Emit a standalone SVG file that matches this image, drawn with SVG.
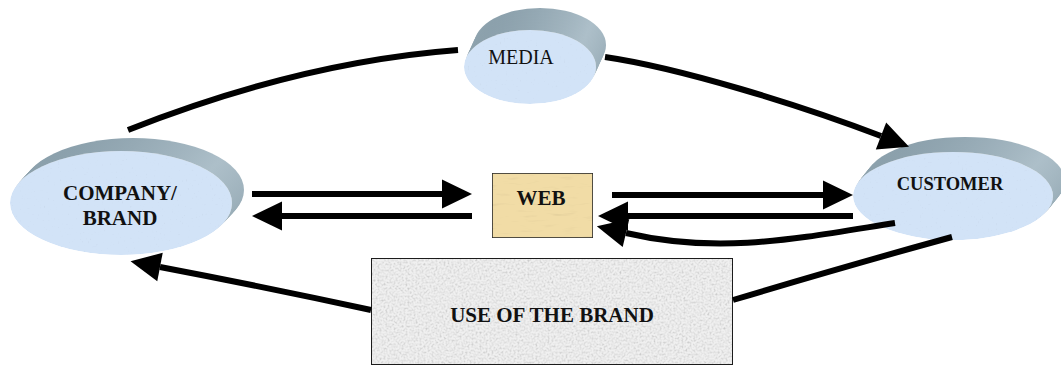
<svg xmlns="http://www.w3.org/2000/svg" width="1061" height="367" viewBox="0 0 1061 367">
  <style>
    .face { fill: #d2e3f7; filter: url(#mottle); }
    .rim { fill: url(#rimGrad); }
    .box-web { fill: #f1dca6; stroke: #2a2a2a; stroke-width: 1.6; filter: url(#parchment); }
    .box-use { fill: #f0f0f0; stroke: #1e1e1e; stroke-width: 2; filter: url(#granite); }
    .lbl { font-family: "Liberation Serif", "Times New Roman", serif; fill: #111; text-anchor: middle; }
    .b { font-weight: bold; }
    .conn { fill: none; stroke: #000; stroke-width: 6; }
    .arrow { marker-end: url(#head); }
  </style>
  <defs>
    <linearGradient id="rimGrad" x1="0" y1="0" x2="1" y2="1">
      <stop offset="0" stop-color="#7f95a1"/>
      <stop offset="0.55" stop-color="#adbfc9"/>
      <stop offset="1" stop-color="#8da2ad"/>
    </linearGradient>
    <filter id="mottle" x="0" y="0" width="1" height="1">
      <feTurbulence type="fractalNoise" baseFrequency="0.5" numOctaves="3" seed="5" result="n"/>
      <feColorMatrix in="n" type="matrix" values="0.33 0.33 0.33 0 0  0.33 0.33 0.33 0 0  0.33 0.33 0.33 0 0  0 0 0 0 1" result="g"/>
      <feComponentTransfer in="g" result="c">
        <feFuncR type="linear" slope="0.5" intercept="0.8"/>
        <feFuncG type="linear" slope="0.5" intercept="0.8"/>
        <feFuncB type="linear" slope="0.5" intercept="0.8"/>
      </feComponentTransfer>
      <feBlend in="SourceGraphic" in2="c" mode="multiply" result="m"/>
      <feComposite in="m" in2="SourceGraphic" operator="in"/>
    </filter>
    <filter id="parchment" x="0" y="0" width="1" height="1">
      <feTurbulence type="fractalNoise" baseFrequency="0.05 0.3" numOctaves="3" seed="2" result="n"/>
      <feColorMatrix in="n" type="matrix" values="0.33 0.33 0.33 0 0  0.33 0.33 0.33 0 0  0.33 0.33 0.33 0 0  0 0 0 0 1" result="g"/>
      <feComponentTransfer in="g" result="c">
        <feFuncR type="linear" slope="0.5" intercept="0.78"/>
        <feFuncG type="linear" slope="0.5" intercept="0.78"/>
        <feFuncB type="linear" slope="0.5" intercept="0.78"/>
      </feComponentTransfer>
      <feBlend in="SourceGraphic" in2="c" mode="multiply" result="m"/>
      <feComposite in="m" in2="SourceGraphic" operator="in"/>
    </filter>
    <filter id="granite" x="0" y="0" width="1" height="1">
      <feTurbulence type="fractalNoise" baseFrequency="0.5" numOctaves="3" seed="9" result="n"/>
      <feColorMatrix in="n" type="matrix" values="0.33 0.33 0.33 0 0  0.33 0.33 0.33 0 0  0.33 0.33 0.33 0 0  0 0 0 0 1" result="g"/>
      <feComponentTransfer in="g" result="c">
        <feFuncR type="linear" slope="1.0" intercept="0.44"/>
        <feFuncG type="linear" slope="1.0" intercept="0.44"/>
        <feFuncB type="linear" slope="1.0" intercept="0.44"/>
      </feComponentTransfer>
      <feBlend in="SourceGraphic" in2="c" mode="multiply" result="m"/>
      <feComposite in="m" in2="SourceGraphic" operator="in"/>
    </filter>
    <marker id="head" viewBox="0 -15 31 30" refX="0" refY="0" markerWidth="31" markerHeight="30" markerUnits="userSpaceOnUse" orient="auto" overflow="visible">
      <path d="M0,-14.5 L30,0 L0,14.5 Z" fill="#000"/>
    </marker>
  </defs>

  <!-- Use of the brand box -->
  <g id="use-of-brand">
    <rect class="box-use" x="371" y="258" width="362" height="107"/>
    <text class="lbl b" x="552" y="322" font-size="21">USE OF THE BRAND</text>
  </g>

  <!-- Company / brand disk: stacked rim ellipses give the extruded edge -->
  <g id="company">
    <ellipse class="rim" cx="133" cy="190" rx="111" ry="52"/>
    <ellipse class="rim" cx="131.5" cy="191.6" rx="111" ry="52"/>
    <ellipse class="rim" cx="130" cy="193.3" rx="111" ry="52"/>
    <ellipse class="rim" cx="128.5" cy="194.9" rx="111" ry="52"/>
    <ellipse class="rim" cx="127" cy="196.5" rx="111" ry="52"/>
    <ellipse class="rim" cx="125.5" cy="198.1" rx="111" ry="52"/>
    <ellipse class="rim" cx="124" cy="199.8" rx="111" ry="52"/>
    <ellipse class="rim" cx="122.5" cy="201.4" rx="111" ry="52"/>
    <ellipse class="face" cx="121" cy="203" rx="111" ry="52"/>
    <text class="lbl b" x="120" y="200" font-size="21">COMPANY/</text>
    <text class="lbl b" x="120" y="225" font-size="21">BRAND</text>
  </g>

  <!-- Media disk -->
  <g id="media">
    <ellipse class="rim" cx="540" cy="45" rx="66" ry="37"/>
    <ellipse class="rim" cx="538.8" cy="47.8" rx="66" ry="37"/>
    <ellipse class="rim" cx="537.5" cy="50.5" rx="66" ry="37"/>
    <ellipse class="rim" cx="536.3" cy="53.3" rx="66" ry="37"/>
    <ellipse class="rim" cx="535" cy="56" rx="66" ry="37"/>
    <ellipse class="rim" cx="533.8" cy="58.8" rx="66" ry="37"/>
    <ellipse class="rim" cx="532.5" cy="61.5" rx="66" ry="37"/>
    <ellipse class="rim" cx="531.3" cy="64.3" rx="66" ry="37"/>
    <ellipse class="face" cx="530" cy="67" rx="66" ry="37"/>
    <text class="lbl" x="521" y="64" font-size="20">MEDIA</text>
  </g>

  <!-- Customer disk -->
  <g id="customer">
    <ellipse class="rim" cx="965" cy="181" rx="100" ry="44"/>
    <ellipse class="rim" cx="963.5" cy="182.9" rx="100" ry="44"/>
    <ellipse class="rim" cx="962" cy="184.8" rx="100" ry="44"/>
    <ellipse class="rim" cx="960.5" cy="186.6" rx="100" ry="44"/>
    <ellipse class="rim" cx="959" cy="188.5" rx="100" ry="44"/>
    <ellipse class="rim" cx="957.5" cy="190.4" rx="100" ry="44"/>
    <ellipse class="rim" cx="956" cy="192.3" rx="100" ry="44"/>
    <ellipse class="rim" cx="954.5" cy="194.1" rx="100" ry="44"/>
    <ellipse class="face" cx="953" cy="196" rx="100" ry="44"/>
    <text class="lbl b" x="950" y="190" font-size="18.5">CUSTOMER</text>
  </g>

  <!-- Web box -->
  <g id="web">
    <rect class="box-web" x="492" y="173" width="101" height="65"/>
    <text class="lbl b" x="541" y="205" font-size="21">WEB</text>
  </g>

  <!-- Connectors -->
  <g id="connectors">
    <path class="conn" d="M128,130 Q300,62 458,50"/>
    <path class="conn arrow" d="M605,57 C680,68 800,105 881,136"/>
    <path class="conn arrow" d="M252,194 L442,194"/>
    <path class="conn arrow" d="M472,216 L282,216"/>
    <path class="conn arrow" d="M612,195 L823,195"/>
    <path class="conn arrow" d="M853,216 L628,216"/>
    <path class="conn arrow" d="M895,223 C800,238 720,255 626,233"/>
    <path class="conn" d="M952,237 Q850,265 733,300"/>
    <path class="conn arrow" d="M371,310 Q270,288 160,267"/>
  </g>
</svg>
